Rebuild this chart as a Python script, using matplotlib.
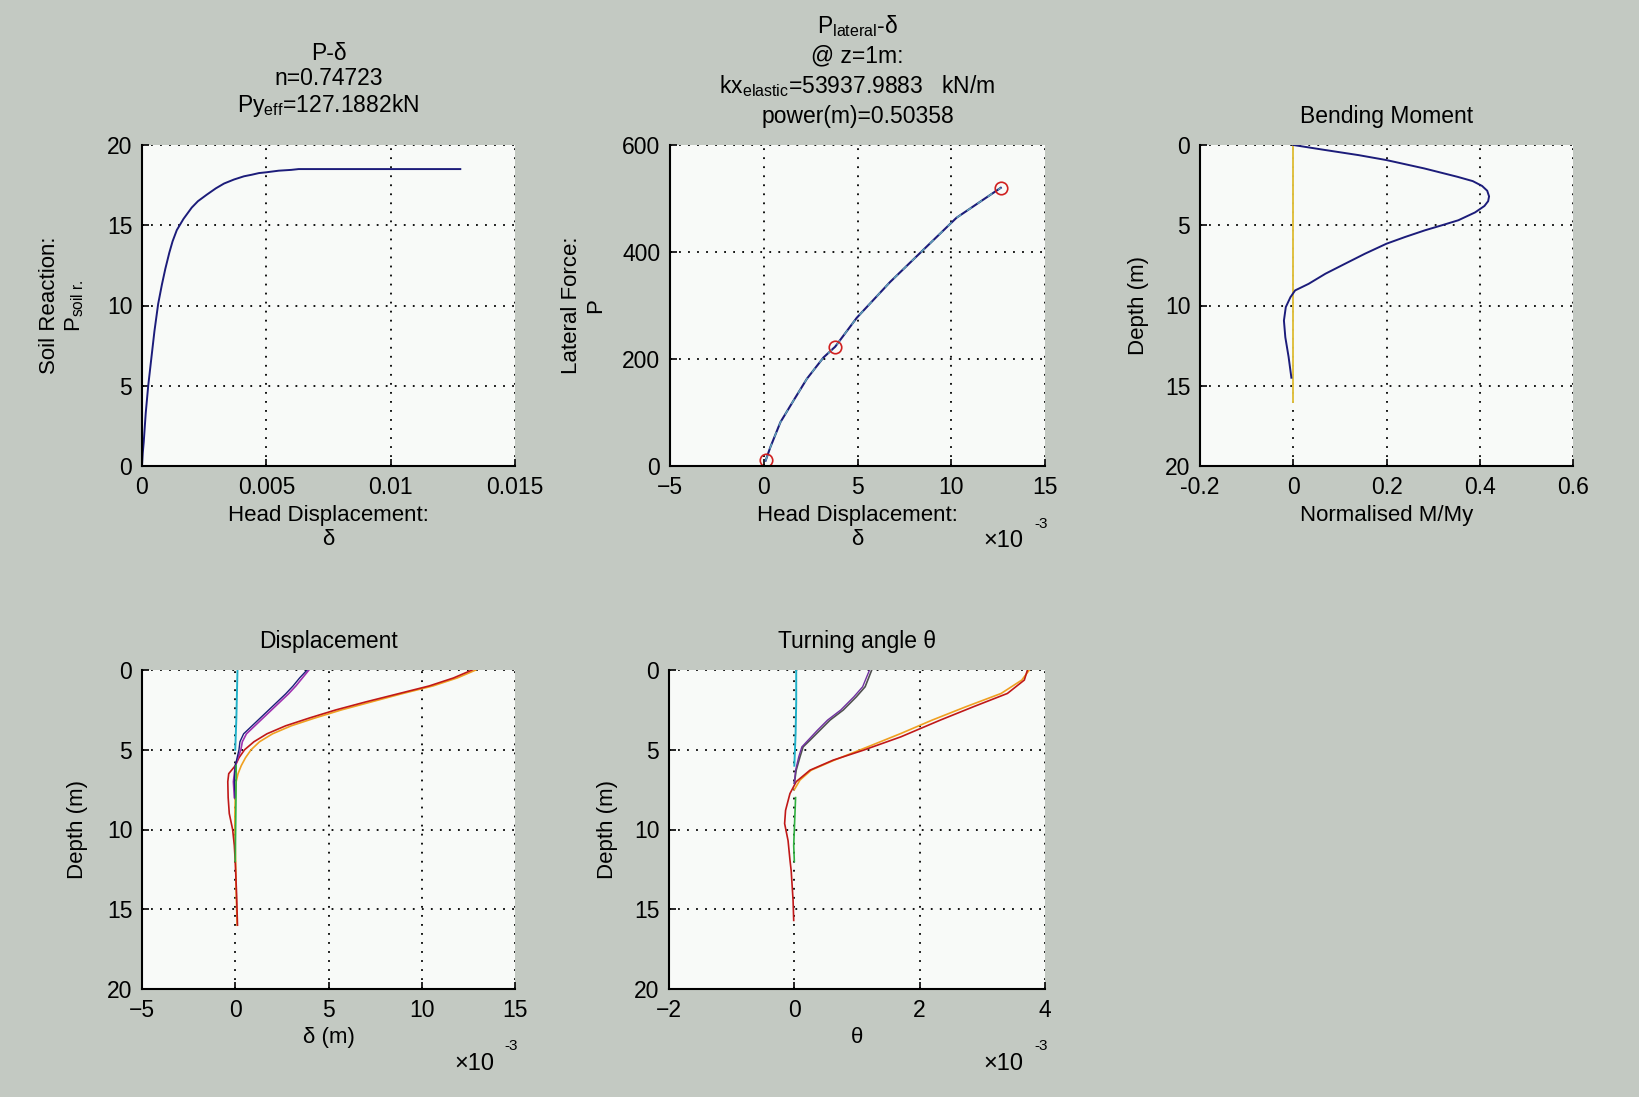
import matplotlib.pyplot as plt
import numpy as np

plt.rcParams['font.family'] = ['Liberation Sans', 'DejaVu Sans']
plt.rcParams['mathtext.fontset'] = 'custom'
plt.rcParams['mathtext.rm'] = 'Liberation Sans'
plt.rcParams['mathtext.it'] = 'Liberation Sans'
plt.rcParams['font.size'] = 16
plt.rcParams['axes.titlesize'] = 16.5

# ---- P-delta (soil reaction) ----
pd_x = [0, 0.00003, 0.00007, 0.00015, 0.00025, 0.00036, 0.0005, 0.00065,
        0.0008, 0.00094, 0.0011, 0.00123, 0.0014, 0.00167, 0.002, 0.00225,
        0.0026, 0.00297, 0.0033, 0.0037, 0.0041, 0.00442, 0.0047, 0.005,
        0.0055, 0.006, 0.0063, 0.0128]
pd_y = [0, 0.8, 1.5, 3.3, 5.0, 6.5, 8.4, 10.1, 11.3, 12.3, 13.3, 14.0, 14.7,
        15.4, 16.1, 16.5, 16.9, 17.3, 17.6, 17.85, 18.05, 18.15, 18.25, 18.3,
        18.4, 18.45, 18.5, 18.5]

# ---- P_lateral-delta (x in 1e-3 m) ----
pl_x = [0.1, 0.35, 0.89, 1.6, 2.3, 3.19, 3.81, 4.96, 6.74, 8.51, 10.28, 12.64]
pl_y = [10, 35, 82, 123, 163, 203, 223, 277, 344, 404, 464, 520]
pl_pts_x = [0.1, 3.81, 12.64]
pl_pts_y = [10.7, 223, 520]

# ---- Bending moment ----
bm_m = [0, 0.068, 0.14, 0.2, 0.281, 0.352, 0.385, 0.405, 0.416, 0.42, 0.418,
        0.41, 0.39, 0.354, 0.319, 0.283, 0.24, 0.2, 0.154, 0.111, 0.069,
        0.033, 0.004, -0.006, -0.016, -0.02, -0.017, -0.01, -0.004]
bm_z = [0, 0.31, 0.63, 0.94, 1.46, 1.98, 2.25, 2.55, 2.85, 3.2, 3.5, 3.8,
        4.2, 4.69, 5.0, 5.31, 5.73, 6.15, 6.77, 7.4, 8.02, 8.65, 9.06, 9.48,
        10.1, 10.94, 11.98, 13.2, 14.5]
bm_ref_m = [0, 0]
bm_ref_z = [0, 16]

# ---- Displacement (x in 1e-3 m) ----
d_z_top = [0, 1, 2, 3, 4, 5]
d_cyan = [0.12, 0.1, 0.08, 0.06, 0.03, 0.0]
d_z_mid = [0, 0.5, 1, 1.5, 2, 2.5, 3, 3.5, 4, 4.5, 5, 5.5, 6, 7, 8]
d_purple = [3.95, 3.6, 3.25, 2.85, 2.4, 1.95, 1.5, 1.05, 0.6, 0.38, 0.3, 0.15,
            0.0, -0.1, -0.05]
d_navy = [3.85, 3.45, 3.1, 2.7, 2.25, 1.8, 1.35, 0.9, 0.45, 0.25, 0.2, 0.1,
          0.0, -0.05, 0.0]
d_z_full = [0, 0.5, 1, 1.5, 2, 2.5, 3, 3.5, 4, 4.5, 5, 5.5, 6, 6.5, 7, 8, 9,
            10, 11, 12, 14, 16]
d_orange = [12.9, 11.9, 10.6, 8.9, 7.3, 5.7, 4.3, 3.0, 2.0, 1.3, 0.85, 0.55,
            0.32, 0.15, 0.05, 0.0, -0.02, -0.02, 0.0, 0.02, 0.05, 0.1]
d_red = [12.7, 11.7, 10.4, 8.7, 7.0, 5.4, 4.0, 2.7, 1.7, 1.0, 0.5, 0.2, 0.0,
         -0.35, -0.4, -0.38, -0.32, -0.14, -0.05, 0.0, 0.07, 0.12]
d_z_green = [6, 8, 10, 12]
d_green = [0.05, 0.04, 0.02, 0.0]

# ---- Turning angle (x in 1e-3) ----
t_z_top = [0, 2, 4, 6]
t_cyan = [0.03, 0.03, 0.02, 0.0]
t_z_mid = [0, 1.05, 1.68, 2.51, 3.14, 3.77, 4.4, 4.82, 5.45, 6.28, 7.1]
t_gray = [1.235, 1.13, 0.99, 0.78, 0.57, 0.41, 0.25, 0.14, 0.09, 0.03, 0.0]
t_purple = [1.2, 1.09, 0.95, 0.74, 0.53, 0.37, 0.22, 0.12, 0.07, 0.02, 0.0]
t_z_or = [0, 0.63, 1.47, 2.3, 3.14, 3.98, 4.82, 5.65, 6.28, 6.9, 7.5]
t_orange = [3.75, 3.63, 3.3, 2.74, 2.2, 1.7, 1.17, 0.64, 0.27, 0.09, 0.0]
t_z_red = [0, 0.63, 1.47, 2.3, 3.14, 4.19, 5.03, 5.65, 6.28, 7.0, 7.75, 8.8,
           9.63, 10.7, 11.9, 12.6, 14.45, 15.7]
t_red = [3.72, 3.67, 3.4, 2.86, 2.33, 1.7, 1.1, 0.62, 0.25, 0.03, -0.07,
         -0.14, -0.155, -0.1, -0.07, -0.05, -0.02, -0.01]
t_z_green = [8, 9, 10, 11, 12]
t_green = [0.02, 0.01, 0.0, -0.01, 0.0]

bg = '#c3c9c2'
navy = '#1c1c7a'

fig = plt.figure(figsize=[16.39, 10.97], dpi=100, facecolor=bg)

W, H = 1639, 1097
def add_ax(x0, y0, x1, y1):
    return fig.add_axes([x0 / W, 1 - y1 / H, (x1 - x0) / W, (y1 - y0) / H])

ax1 = add_ax(142, 145, 515, 466)
ax2 = add_ax(670, 145, 1045, 466)
ax3 = add_ax(1200, 145, 1573, 466)
ax4 = add_ax(142, 670, 515, 989)
ax5 = add_ax(669, 670, 1045, 989)

def style(ax):
    ax.set_facecolor('#f8faf8')
    ax.grid(True, color='k', linestyle=(0, (1, 4)), linewidth=1.3)
    ax.set_axisbelow(True)
    for s in ['top', 'right']:
        ax.spines[s].set_visible(False)
    for s in ['left', 'bottom']:
        ax.spines[s].set_linewidth(1.5)
    ax.tick_params(direction='in', length=5, width=1.2, pad=7, labelsize=16.5)

for ax in [ax1, ax2, ax3, ax4, ax5]:
    style(ax)

ls = 1.2

# panel 1
ax1.plot(pd_x, pd_y, color=navy, lw=1.4)
ax1.set_xlim(0, 0.015)
ax1.set_ylim(0, 20)
ax1.set_xticks([0, 0.005, 0.01, 0.015])
ax1.set_xticklabels(['0', '0.005', '0.01', '0.015'])
ax1.set_yticks([0, 5, 10, 15, 20])
ax1.set_title('P-δ\nn=0.74723\nPy$_{\\mathregular{eff}}$=127.1882kN', pad=24, linespacing=1.1)
ax1.set_xlabel('Head Displacement:\nδ', linespacing=ls)
ax1.set_ylabel('Soil Reaction:\nP$_{\\mathregular{soil\\ r.}}$', linespacing=ls)

# panel 2
ax2.plot(pl_x, pl_y, color=navy, lw=1.5)
ax2.plot(pl_x, pl_y, color='#60a8b8', lw=1.0, ls=(0, (4, 5)))
ax2.plot(pl_pts_x, pl_pts_y, 'o', mfc='none', mec='#d02020', ms=9, mew=1.2)
ax2.set_xlim(-5, 15)
ax2.set_ylim(0, 600)
ax2.set_xticks([-5, 0, 5, 10, 15])
ax2.set_yticks([0, 200, 400, 600])
ax2.set_title('P$_{\\mathregular{lateral}}$-δ\n@ z=1m:\nkx$_{\\mathregular{elastic}}$=53937.9883   kN/m\npower(m)=0.50358',
              pad=16, linespacing=1.3)
ax2.set_xlabel('Head Displacement:\nδ', linespacing=ls)
ax2.set_ylabel('Lateral Force:\nP', linespacing=ls)

# panel 3
ax3.plot(bm_ref_m, bm_ref_z, color='#e0c040', lw=1.4)
ax3.plot(bm_m, bm_z, color=navy, lw=1.4)
ax3.set_xlim(-0.2, 0.6)
ax3.set_ylim(20, 0)
ax3.set_xticks([-0.2, 0, 0.2, 0.4, 0.6])
ax3.set_xticklabels(['-0.2', '0', '0.2', '0.4', '0.6'])
ax3.set_yticks([0, 5, 10, 15, 20])
ax3.set_title('Bending Moment', pad=16)
ax3.set_xlabel('Normalised M/My')
ax3.set_ylabel('Depth (m)')

# panel 4
ax4.plot(d_orange, d_z_full, color='#f0a020', lw=1.2)
ax4.plot(d_red, d_z_full, color='#c01818', lw=1.2)
ax4.plot(d_purple, d_z_mid, color='#a030b0', lw=1.2)
ax4.plot(d_navy, d_z_mid, color=navy, lw=1.0)
ax4.plot(d_green, d_z_green, color='#30b040', lw=1.2)
ax4.plot(d_cyan, d_z_top, color='#20b0c8', lw=1.4)
ax4.set_xlim(-5, 15)
ax4.set_ylim(20, 0)
ax4.set_xticks([-5, 0, 5, 10, 15])
ax4.set_yticks([0, 5, 10, 15, 20])
ax4.set_title('Displacement', pad=16)
ax4.set_xlabel('δ (m)')
ax4.set_ylabel('Depth (m)')

# panel 5
ax5.plot(t_orange, t_z_or, color='#f0a020', lw=1.2)
ax5.plot(t_red, t_z_red, color='#c01818', lw=1.2)
ax5.plot(t_gray, t_z_mid, color='#505050', lw=1.2)
ax5.plot(t_purple, t_z_mid, color='#7030a0', lw=1.0)
ax5.plot(t_green, t_z_green, color='#30b040', lw=1.2)
ax5.plot(t_cyan, t_z_top, color='#20b0c8', lw=1.4)
ax5.set_xlim(-2, 4)
ax5.set_ylim(20, 0)
ax5.set_xticks([-2, 0, 2, 4])
ax5.set_yticks([0, 5, 10, 15, 20])
ax5.set_title('Turning angle θ', pad=16)
ax5.set_xlabel('θ')
ax5.set_ylabel('Depth (m)')

# label positions
for ax in [ax1, ax2, ax3, ax4, ax5]:
    ax.xaxis.set_label_coords(0.5, -0.12)
ax1.yaxis.set_label_coords(-0.15, 0.5)
ax2.yaxis.set_label_coords(-0.17, 0.5)
ax3.yaxis.set_label_coords(-0.137, 0.5)
ax4.yaxis.set_label_coords(-0.145, 0.5)
ax5.yaxis.set_label_coords(-0.136, 0.5)

# x10^-3 multipliers
for ax in [ax2, ax4, ax5]:
    ax.text(0.89, -0.235, '×10', transform=ax.transAxes, ha='center', va='center', fontsize=17)
    ax.text(0.99, -0.18, '-3', transform=ax.transAxes, ha='center', va='center', fontsize=11)

fig.savefig('out.png', dpi=100, facecolor=bg)
